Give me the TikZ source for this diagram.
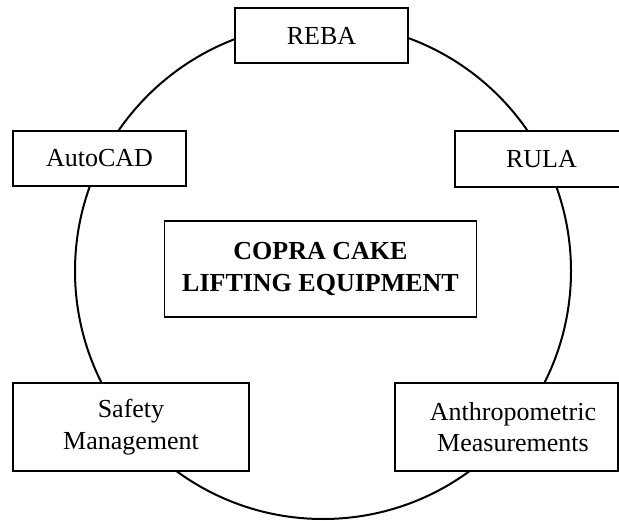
\documentclass[tikz,border=0pt]{standalone}
\usepackage{fontspec}
\setmainfont{Liberation Serif}
\begin{document}
\begin{tikzpicture}[x=1pt,y=-1pt,
  box/.style={draw=black,line width=1.2pt,fill=white,rectangle,inner sep=0pt,
    align=center,font=\fontsize{26}{31.5}\selectfont},
  ring/.style={draw=black,line width=2pt}]
\useasboundingbox (0,0) rectangle (619,521);
\clip (0,0) rectangle (619,521);
\draw[ring] (323,271) circle (248pt);
\node[box,minimum width=173pt,minimum height=55pt] (reba) at (321.5,35.5) {REBA};
\node[box,minimum width=173pt,minimum height=55pt] (autocad) at (99.5,158.5) {AutoCAD};
\node[box,minimum width=173pt,minimum height=56pt] (rula) at (541.5,159) {RULA};
\node[box,minimum width=312pt,minimum height=96pt] (core) at (320.5,269)
  {\raisebox{7pt}{\parbox{300pt}{\centering\bfseries COPRA CAKE\\LIFTING EQUIPMENT}}};
\node[box,minimum width=236pt,minimum height=88pt] (safety) at (131,427) {Safety\\Management};
\node[box,minimum width=223pt,minimum height=88pt] (anthro) at (506.5,427)
  {\hspace*{13pt}Anthropometric\\\hspace*{13pt}Measurements};
\end{tikzpicture}
\end{document}
